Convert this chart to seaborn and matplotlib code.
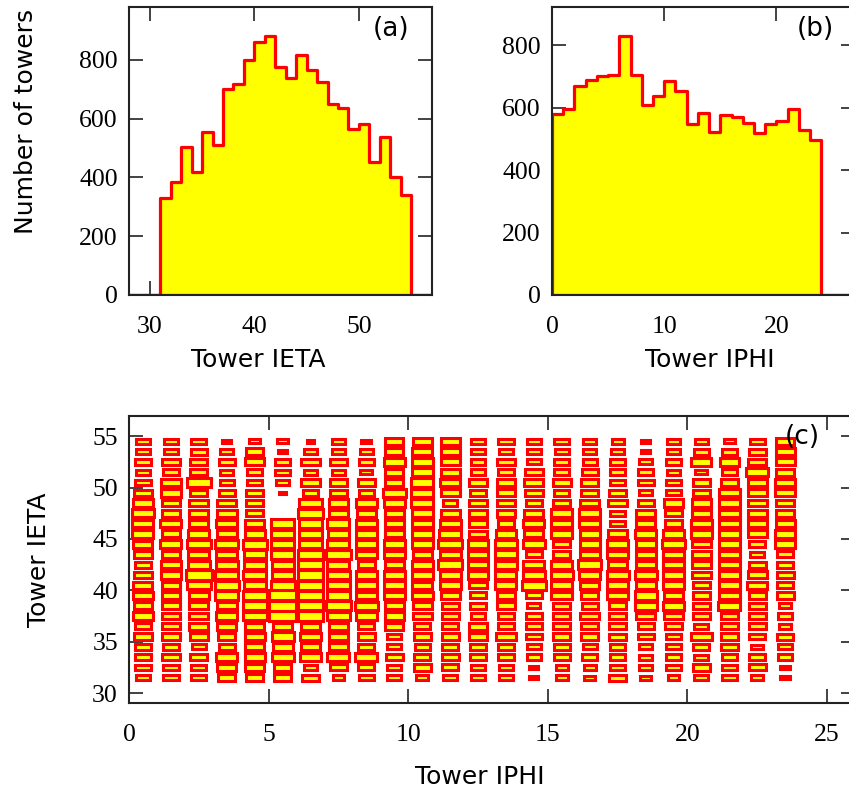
import numpy as np
import pandas as pd
import matplotlib
matplotlib.use("Agg")
import matplotlib.pyplot as plt
import seaborn as sns

# (a) towers per IETA, unit bins starting at the left edge
ieta_bins = list(range(28, 57))
ieta_counts = [0, 0, 0,
               330, 386, 503, 420, 553, 510, 701, 718, 800, 860, 882, 777,
               740, 816, 765, 724, 650, 636, 565, 582, 454, 537, 403, 339,
               0, 0]

# (b) towers per IPHI
iphi_bins = list(range(0, 27))
iphi_counts = [581, 596, 671, 689, 701, 706, 831, 704, 610, 637, 687, 653,
               549, 582, 521, 576, 570, 551, 519, 548, 558, 596, 528, 498,
               0, 0, 0]

# (c) box side (% of cell) per tower, rows IETA 54 -> 31, columns IPHI 0 -> 23
ieta_rows = list(range(54, 30, -1))
iphi_cols = list(range(0, 24))
cell_size = [
    [48, 48, 53, 31, 37, 38, 26, 45, 36, 65, 67, 68, 47, 54, 50, 53, 45, 42, 35, 48, 49, 38, 53, 65],
    [50, 50, 58, 47, 63, 32, 43, 45, 47, 65, 70, 68, 47, 48, 50, 50, 45, 49, 35, 43, 56, 56, 61, 67],
    [56, 62, 62, 58, 67, 55, 65, 60, 54, 75, 76, 68, 53, 66, 50, 55, 51, 54, 48, 56, 72, 70, 66, 67],
    [50, 57, 61, 48, 53, 51, 45, 47, 42, 65, 76, 68, 53, 56, 62, 55, 57, 54, 53, 48, 43, 56, 78, 65],
    [57, 70, 86, 50, 54, 47, 65, 62, 62, 65, 80, 73, 63, 66, 68, 65, 62, 54, 57, 53, 60, 61, 68, 73],
    [63, 74, 61, 58, 60, 23, 55, 60, 54, 82, 80, 68, 58, 66, 62, 55, 62, 61, 48, 53, 60, 73, 68, 73],
    [73, 63, 68, 68, 60, 0, 79, 70, 73, 75, 80, 50, 63, 66, 56, 62, 67, 68, 57, 69, 70, 73, 68, 65],
    [82, 67, 69, 70, 61, 0, 88, 70, 66, 69, 76, 68, 63, 66, 68, 74, 76, 54, 67, 62, 70, 73, 68, 65],
    [75, 76, 68, 75, 66, 81, 79, 79, 73, 69, 76, 75, 63, 60, 75, 76, 76, 54, 67, 62, 75, 73, 68, 67],
    [75, 67, 75, 70, 72, 81, 79, 75, 73, 69, 76, 80, 63, 72, 68, 76, 72, 68, 76, 72, 75, 73, 68, 73],
    [68, 76, 85, 84, 86, 81, 79, 79, 73, 75, 76, 85, 72, 78, 81, 62, 72, 75, 72, 81, 66, 73, 58, 73],
    [63, 67, 75, 75, 79, 84, 93, 87, 73, 75, 67, 75, 72, 78, 58, 62, 72, 75, 72, 72, 66, 73, 51, 56],
    [59, 70, 78, 78, 79, 79, 86, 79, 62, 69, 76, 85, 72, 78, 75, 76, 84, 70, 72, 72, 66, 73, 61, 56],
    [63, 73, 92, 84, 82, 79, 90, 81, 73, 75, 76, 75, 72, 75, 80, 80, 76, 78, 79, 72, 66, 73, 68, 61],
    [68, 67, 84, 85, 78, 86, 90, 81, 73, 75, 70, 75, 63, 75, 85, 74, 67, 73, 72, 72, 60, 73, 70, 56],
    [73, 63, 73, 82, 87, 97, 90, 84, 73, 75, 76, 68, 58, 66, 58, 74, 62, 73, 79, 67, 60, 73, 61, 61],
    [63, 67, 69, 70, 87, 97, 92, 88, 81, 69, 67, 61, 57, 66, 47, 62, 57, 63, 79, 74, 60, 78, 61, 44],
    [73, 63, 67, 75, 85, 94, 90, 84, 73, 69, 67, 61, 53, 60, 56, 62, 67, 63, 67, 65, 60, 63, 61, 49],
    [56, 63, 68, 69, 66, 69, 69, 70, 57, 65, 57, 56, 66, 60, 56, 62, 62, 63, 57, 60, 50, 63, 61, 44],
    [63, 67, 65, 62, 72, 79, 73, 70, 62, 49, 62, 61, 66, 70, 56, 62, 62, 59, 57, 57, 73, 63, 56, 59],
    [59, 55, 50, 57, 66, 72, 65, 70, 57, 49, 53, 56, 57, 56, 51, 56, 49, 54, 48, 51, 57, 59, 44, 51],
    [59, 63, 61, 75, 72, 79, 73, 79, 79, 59, 57, 61, 57, 56, 51, 56, 53, 54, 48, 51, 50, 54, 56, 51],
    [55, 55, 54, 69, 66, 63, 49, 60, 57, 49, 62, 56, 53, 48, 33, 44, 44, 54, 48, 51, 63, 54, 61, 35],
    [53, 55, 54, 62, 61, 61, 60, 42, 54, 49, 44, 50, 53, 48, 33, 44, 39, 59, 38, 42, 50, 54, 42, 35],
]

sns.set_style("ticks")
plt.rcParams['font.family'] = ['DejaVu Sans']

YELLOW = "#ffff00"
RED = "#ff0000"
TICK_FONT = "Liberation Serif"
LABEL_SIZE = 18
TAG_SIZE = 19

W, H = 849, 795
fig = plt.figure(figsize=(W / 100, H / 100), dpi=100)


def px_axes(left, top, right, bottom):
    return fig.add_axes([left / W, 1 - bottom / H, (right - left) / W, (bottom - top) / H])


def style_axes(ax):
    for sp in ax.spines.values():
        sp.set_linewidth(1.5)
        sp.set_color("#222222")
        sp.set_visible(True)
        sp.set_zorder(5)
    ax.tick_params(direction="in", length=10, width=1.2, color="#222222",
                   top=True, right=True, labelsize=18.5,
                   labelfontfamily=TICK_FONT, labelcolor="black")
    ax.tick_params(axis="x", pad=15)
    ax.tick_params(axis="y", pad=8)
    ax.grid(False)


ax_a = px_axes(129, 7, 432, 295)
ax_b = px_axes(552, 7, 855, 295)
ax_c = px_axes(129, 415.7, 855, 703.3)

ieta_df = pd.DataFrame({"ieta": np.array(ieta_bins) + 0.5, "count": ieta_counts})
iphi_df = pd.DataFrame({"iphi": np.array(iphi_bins) + 0.5, "count": iphi_counts})

# 1. IETA
sns.histplot(data=ieta_df, x="ieta", weights="count",
             bins=list(range(28, 58)), element="step", fill=True,
             color=YELLOW, alpha=1, edgecolor=RED, linewidth=2.3, ax=ax_a)
ax_a.set_xlim(28, 57)
ax_a.set_ylim(0, 980)
ax_a.set_xticks([30, 40, 50])
ax_a.set_yticks([0, 200, 400, 600, 800])
style_axes(ax_a)
ax_a.set_xlabel("Tower IETA", fontsize=LABEL_SIZE, color="black")
ax_a.set_ylabel("Number of towers", fontsize=LABEL_SIZE, color="black")
ax_a.xaxis.set_label_coords(0.426, -0.184)
ax_a.yaxis.set_label_coords(-0.30, 0.604)
ax_a.text(0.865, 0.924, "(a)", transform=ax_a.transAxes, fontsize=TAG_SIZE,
          ha="center", va="center", color="black")

# 2. IPHI
sns.histplot(data=iphi_df, x="iphi", weights="count",
             bins=list(range(0, 28)), element="step", fill=True,
             color=YELLOW, alpha=1, edgecolor=RED, linewidth=2.3, ax=ax_b)
ax_b.set_xlim(0, 27)
ax_b.set_ylim(0, 923)
ax_b.set_xticks([0, 10, 20])
ax_b.set_yticks([0, 200, 400, 600, 800])
style_axes(ax_b)
ax_b.set_xlabel("Tower IPHI", fontsize=LABEL_SIZE, color="black")
ax_b.set_ylabel("")
ax_b.xaxis.set_label_coords(0.521, -0.184)
ax_b.text(0.868, 0.924, "(b)", transform=ax_b.transAxes, fontsize=TAG_SIZE,
          ha="center", va="center", color="black")

# 3. IETA vs IPHI boxes
cells = (pd.DataFrame(cell_size, index=ieta_rows, columns=iphi_cols)
         .rename_axis(index="ieta", columns="iphi")
         .stack().rename("size").reset_index())
cells = cells[cells["size"] > 0]
frac = cells["size"] / 100.0
ax_c.bar(cells["iphi"] + 0.5, frac, width=frac,
         bottom=cells["ieta"] + 0.5 - frac / 2,
         color=YELLOW, edgecolor=RED, linewidth=2.2)
ax_c.set_xlim(0, 26)
ax_c.set_ylim(29, 57)
ax_c.set_xticks([0, 5, 10, 15, 20, 25])
ax_c.set_yticks([30, 35, 40, 45, 50, 55])
style_axes(ax_c)
ax_c.set_xlabel("Tower IPHI", fontsize=LABEL_SIZE, color="black")
ax_c.set_ylabel("Tower IETA", fontsize=LABEL_SIZE, color="black")
ax_c.xaxis.set_label_coords(0.483, -0.215)
ax_c.yaxis.set_label_coords(-0.107, 0.498)
ax_c.text(0.928, 0.926, "(c)", transform=ax_c.transAxes, fontsize=TAG_SIZE,
          ha="center", va="center", color="black")

fig.savefig("out.png", dpi=100)
